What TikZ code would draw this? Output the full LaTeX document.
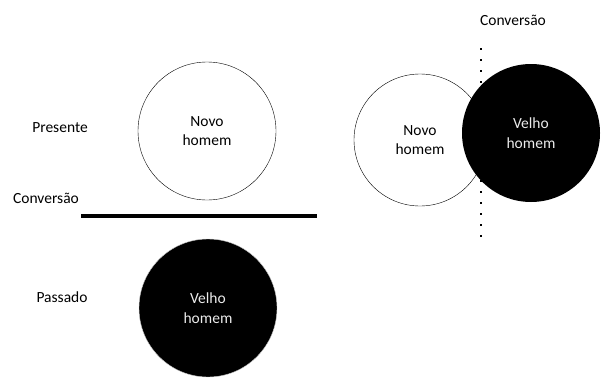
\documentclass[tikz,border=0pt]{standalone}
\usepackage{fontspec}
\setmainfont{Carlito}
\usepackage{tikz}
\usetikzlibrary{
    positioning,
    calc
}

\begin{document}
\begin{tikzpicture}[
    x=1pt, y=-1pt,
    novo/.style={circle, draw=black, thin, fill=white, minimum size=138pt, inner sep=0pt, align=center, font=\fontsize{15.5}{19.5}\selectfont},
    velho/.style={circle, draw=gray!40, fill=black, text=white!92!black, minimum size=138pt, inner sep=0pt, align=center, font=\fontsize{15.5}{19.5}\selectfont},
    rotulo/.style={font=\fontsize{15.5}{19}\selectfont, inner sep=0pt},
    corte/.style={line width=4.5pt, black},
    pontos/.style={line width=2.2pt, dash pattern=on 2.2pt off 8.8pt, black},
]
    \useasboundingbox (0,0) rectangle (602,380);

    % Linha do tempo
    \begin{scope}[local bounding box=tempo]
        \node[novo] (n1) at (207,131) {Novo\\homem};
        \node[velho] (v1) at (208,308) {Velho\\homem};
        \coordinate (c1) at (81,216);
        \coordinate (c2) at (317,216);
        \draw[corte] (c1) -- (c2);
    \end{scope}
    \node[rotulo] (presente) at (60,128) {Presente};
    \node[rotulo] (conv1) at (46,198) {Conversão};
    \node[rotulo] (passado) at (62,297) {Passado};

    % Conflito
    \begin{scope}[local bounding box=conflito]
        \node[novo, minimum size=132pt] (n2) at (420,140) {Novo\\homem};
        \node[velho, draw=none, minimum size=138pt] (v2) at (531,133) {Velho\\homem};
        \coordinate (d1) at (481,48);
        \coordinate (d2) at (481,240);
        \draw[pontos] (d1) -- (d2);
    \end{scope}
    \node[rotulo] (conv2) at (513,20) {Conversão};

\end{tikzpicture}
\end{document}
